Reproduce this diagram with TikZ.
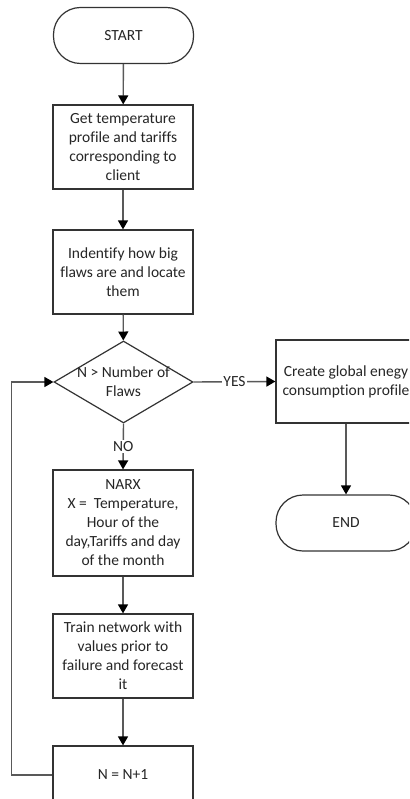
\documentclass[tikz,border=0pt]{standalone}
\usepackage{fontspec}
\setmainfont[Ligatures=CommonOff]{Carlito}
\usetikzlibrary{shapes.geometric,arrows.meta}
\begin{document}
\begin{tikzpicture}[x=1pt,y=-1pt,
  every node/.style={font=\fontsize{15.5pt}{19pt}\selectfont, text=black!85},
  box/.style={draw=black!80, line width=1.2pt, rectangle, minimum width=140pt, minimum height=84pt, inner sep=0pt, align=center},
  term/.style={draw=black!80, line width=1.2pt, rectangle, rounded corners=27pt, minimum width=140pt, minimum height=56pt, inner sep=0pt, align=center},
  dec/.style={draw=black!80, line width=1.2pt, diamond, minimum width=139pt, minimum height=82pt, inner sep=0pt},
  conn/.style={draw=black!65, line width=1.4pt, -{Triangle[length=9pt,width=10pt,color=black]}},
  lbl/.style={fill=white, inner sep=1pt}
]
\useasboundingbox (0,0) rectangle (409,799);
\clip (0,0) rectangle (409,799);
\fill[white] (0,0) rectangle (409,799);

\node[term] (start) at (123.5,35.5) {START};
\node[box] (b1) at (123,147) {Get temperature\\profile and tariffs\\corresponding to\\client};
\node[box] (b2) at (123,272) {Indentify how big\\flaws are and locate\\them};
\node[dec] (d) at (123.5,382) {};
\node (dt) at (123.5,382) [align=center, inner sep=0pt] {N > Number of\\Flaws};
\node[box, minimum height=83pt] (c) at (346,381.5) {Create global enegy\\consumption profile};
\node[term] (e) at (346,523) {END};
\node[box, minimum height=106pt] (b3) at (123,523) {NARX\\X =\ \ Temperature,\\Hour of the\\day,Tariffs and day\\of the month};
\node[box] (b4) at (123,656) {Train network with\\values prior to\\failure and forecast\\it};
\node[box, minimum height=58pt] (b5) at (123,775) {N = N+1};

\draw[conn] (start) -- (b1);
\draw[conn] (b1) -- (b2);
\draw[conn] (b2) -- (d);
\draw[conn] (d.east) -- node[lbl] {YES} (c.west);
\draw[conn] (c) -- (e);
\draw[conn] (d.south) -- node[lbl] {NO} (b3.north);
\draw[conn] (b3) -- (b4);
\draw[conn] (b4) -- (b5);
\draw[conn] (b5.west) -- ++(-41,0) |- (d.west);
\end{tikzpicture}
\end{document}
